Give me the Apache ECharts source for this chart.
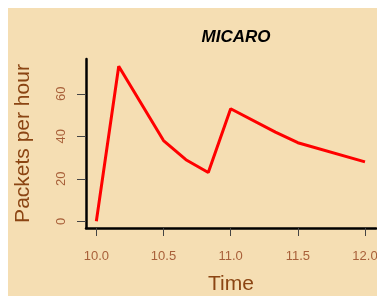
<!DOCTYPE html>
<html>
<head>
<meta charset="utf-8">
<script src="https://cdn.jsdelivr.net/npm/echarts@6/dist/echarts.min.js"></script>
<style>
  body { margin: 8px; background: #ffffff; }
  #chart { width: 377px; height: 288px; }
</style>
</head>
<body>
<div id="chart"></div>
<script>
// horas y paquetes
const horas = [10.0, 10.1667, 10.5, 10.6667, 10.8333, 11.0, 11.3333, 11.5, 12.0];
const paquetes = [0, 73, 38, 29, 23, 53, 42, 37, 28];
const ticks_x = [10.0, 10.5, 11.0, 11.5, 12.0];
const ticks_y = [0, 20, 40, 60];

let datos = horas.map((h, i) => [h, paquetes[i]]);

let opcion = {
    backgroundColor: '#F5DEB3',
    animation: false,
    title: {
        text: 'MICARO',
        left: 223,
        top: 16,
        textAlign: 'center',
        textStyle: {
            fontFamily: 'Liberation Sans',
            fontSize: 17,
            fontWeight: 'bold',
            fontStyle: 'italic',
            color: '#000000'
        }
    },
    grid: {
        left: 78,
        right: 9,
        top: 51,
        bottom: 68,
        outerBoundsMode: 'none'
    },
    xAxis: {
        type: 'value',
        min: 9.923,
        max: 12.082,
        name: 'Time',
        nameLocation: 'middle',
        nameGap: 46,
        nameTextStyle: {
            fontFamily: 'Liberation Sans',
            fontSize: 21,
            color: '#8B4513'
        },
        axisLine: { show: true, onZero: false, lineStyle: { color: '#000000', width: 2.5 } },
        axisTick: {
            show: true,
            length: 8,
            customValues: ticks_x,
            lineStyle: { color: '#444444', width: 1 }
        },
        axisLabel: {
            customValues: ticks_x,
            margin: 22,
            fontFamily: 'Liberation Sans',
            fontSize: 13,
            color: '#A8603A',
            formatter: v => v.toFixed(1)
        },
        splitLine: { show: false }
    },
    yAxis: {
        type: 'value',
        min: -3.15,
        max: 76.4,
        name: 'Packets per hour',
        nameLocation: 'middle',
        nameGap: 52,
        nameTextStyle: {
            fontFamily: 'Liberation Sans',
            fontSize: 21,
            color: '#8B4513'
        },
        axisLine: { show: true, onZero: false, lineStyle: { color: '#000000', width: 2.5 } },
        axisTick: {
            show: true,
            length: 9,
            customValues: ticks_y,
            lineStyle: { color: '#444444', width: 1 }
        },
        axisLabel: {
            customValues: ticks_y,
            rotate: 90,
            margin: 18,
            fontFamily: 'Liberation Sans',
            fontSize: 13,
            color: '#A8603A'
        },
        splitLine: { show: false }
    },
    series: [{
        type: 'line',
        data: datos,
        showSymbol: false,
        lineStyle: { color: '#FF0000', width: 3 }
    }]
};

var grafica = echarts.init(document.getElementById('chart'));
grafica.setOption(opcion);
</script>
</body>
</html>
